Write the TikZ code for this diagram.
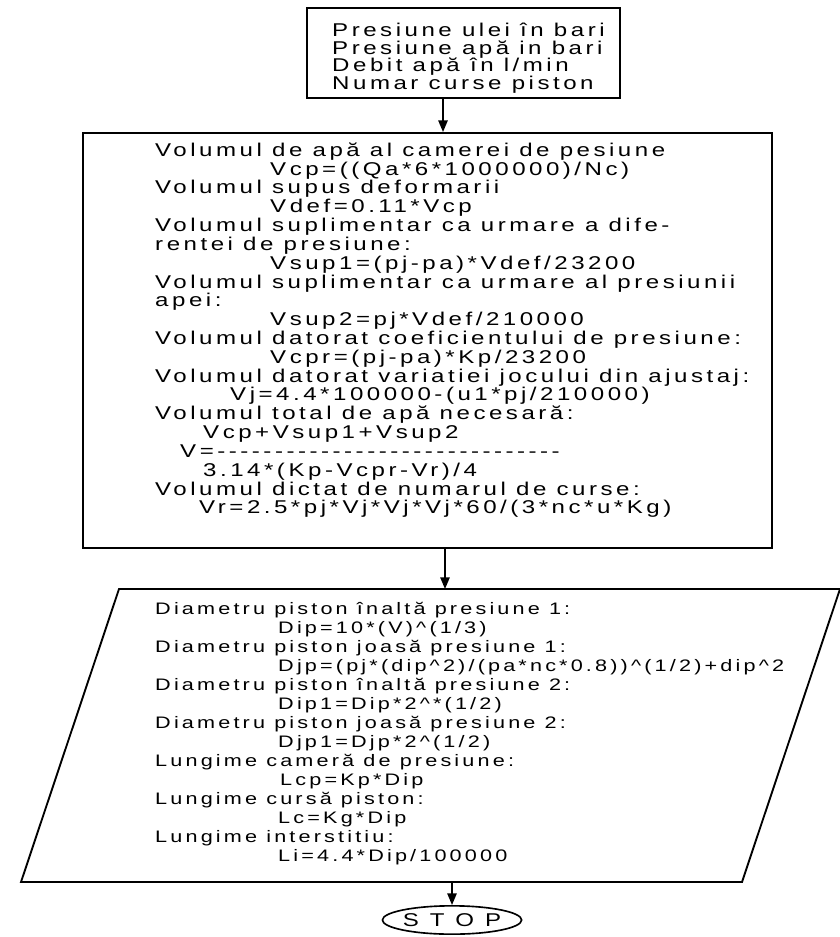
\documentclass[tikz,border=0pt]{standalone}
\usepackage{fontspec}
\setmainfont{Liberation Sans}[Ligatures=TeXOff, FakeStretch=1.3, LetterSpace=19]
\usetikzlibrary{arrows.meta,shapes.geometric,positioning}
\newcommand{\ftx}{\fontsize{15.8}{18}\selectfont}
\newcommand{\ftp}{\fontsize{14.2}{18}\selectfont}
\newcommand{\pw}{\textasciicircum}

\begin{document}
\begin{tikzpicture}[x=0.03cm, y=-0.03cm,
    blk/.style={draw, line width=1.6pt},
    ln/.style={anchor=west, inner sep=0pt, text height=11pt, text depth=3pt, font=\ftx},
    flow/.style={-{Triangle[length=10pt,width=8pt]}, line width=1.4pt}
  ]
  \useasboundingbox (0,0) rectangle (839,937);
  % Blocks
  \node[blk, minimum width=9.39cm, minimum height=2.7cm] (input) at (463.5,53) {};
  \node[blk, minimum width=20.67cm, minimum height=12.45cm] (calc) at (427.5,340.5) {};
  \coordinate (pTL) at (119,589);
  \coordinate (pTR) at (840,589);
  \coordinate (pBR) at (742,882);
  \coordinate (pBL) at (21,882);
  \draw[blk, line join=miter] (pTL) -- (pTR) -- (pBR) -- (pBL) -- cycle;
  \node[draw, ellipse, line width=1.4pt, minimum width=3.45cm, minimum height=0.85cm,
        inner sep=0pt, font=\ftx] (stop) at (452,920) {\addfontfeature{LetterSpace=60}STOP};

  % Input data
  \foreach \x/\y/\t [count=\i] in {
      332/32/{Presiune ulei în bari},
      332/50/{Presiune apă in bari},
      332/67/{Debit apă în l/min},
      332/85/{Numar curse piston}}
    \node[ln] (in\i) at (\x,\y) {\t};

  % Volumes
  \foreach \x/\y/\t [count=\i] in {
      155/152/{Volumul de apă al camerei de pesiune},
      270/171/{Vcp=((Qa*6*1000000)/Nc)},
      155/189/{Volumul supus deformarii},
      270/208/{Vdef=0.11*Vcp},
      155/227/{Volumul suplimentar ca urmare a dife-},
      155/246/{rentei de presiune:},
      270/265/{Vsup1=(pj-pa)*Vdef/23200},
      155/284/{Volumul suplimentar ca urmare al presiunii},
      155/302/{apei:},
      270/321/{Vsup2=pj*Vdef/210000},
      155/340/{Volumul datorat coeficientului de presiune:},
      270/359/{Vcpr=(pj-pa)*Kp/23200},
      155/378/{Volumul datorat variatiei jocului din ajustaj:},
      230/396/{Vj=4.4*100000-(u1*pj/210000)},
      155/415/{Volumul total de apă necesară:},
      203/434/{Vcp+Vsup1+Vsup2},
      180/453/{V=------------------------------},
      203/472/{3.14*(Kp-Vcpr-Vr)/4},
      155/491/{Volumul dictat de numarul de curse:},
      199/509/{Vr=2.5*pj*Vj*Vj*Vj*60/(3*nc*u*Kg)}}
    \node[ln] (v\i) at (\x,\y) {\t};

  % Piston dimensions
  \foreach \x/\y/\t [count=\i] in {
      155/610/{Diametru piston înaltă presiune 1:},
      278/629/{Dip=10*(V)\pw(1/3)},
      155/648/{Diametru piston joasă presiune 1:},
      278/667/{Djp=(pj*(dip\pw2)/(pa*nc*0.8))\pw(1/2)+dip\pw2},
      155/686/{Diametru piston înaltă presiune 2:},
      278/705/{Dip1=Dip*2\pw*(1/2)},
      155/724/{Diametru piston joasă presiune 2:},
      278/743/{Djp1=Djp*2\pw(1/2)},
      155/762/{Lungime cameră de presiune:},
      280/781/{Lcp=Kp*Dip},
      155/800/{Lungime cursă piston:},
      278/819/{Lc=Kg*Dip},
      155/838/{Lungime interstitiu:},
      278/857/{Li=4.4*Dip/100000}}
    \node[ln, font=\ftp] (d\i) at (\x,\y) {\t};

  % Flow
  \coordinate (a1) at (443,98);
  \coordinate (a2) at (445,548);
  \coordinate (a3) at (452,882);
  \draw[flow] (a1) -- (a1 |- calc.north);
  \draw[flow] (a2) -- (a2 |- pTL);
  \draw[flow] (a3) -- (stop.north);
\end{tikzpicture}
\end{document}
